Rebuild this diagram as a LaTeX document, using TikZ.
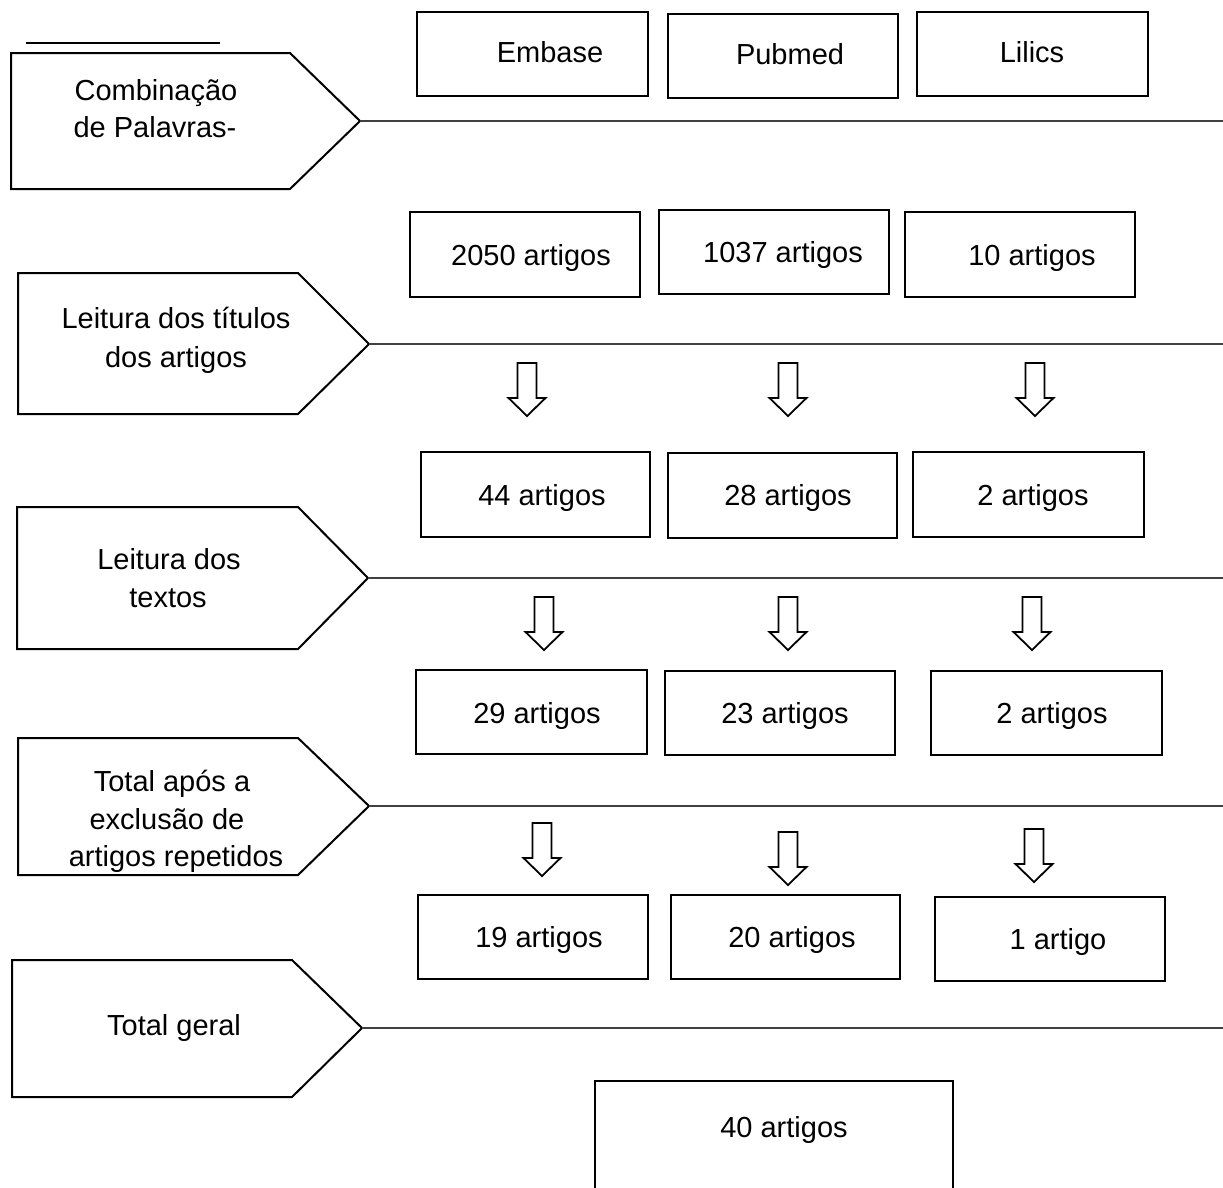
\documentclass[tikz,border=0pt]{standalone}
\usepackage{fontspec}
\setmainfont{Liberation Sans}
\begin{document}
\begin{tikzpicture}[x=1pt,y=-1pt,
  box/.style={draw=black, line width=2pt, inner sep=0pt},
  txt/.style={inner sep=0pt, anchor=base, font=\fontsize{29}{34}\selectfont},
  pent/.style={draw=black, line width=2pt, line join=miter},
  rule/.style={draw=black!75, line width=1.3pt},
  blockarrow/.style={draw=black, line width=1.8pt, line join=miter},
  dnarrow/.pic={\draw[blockarrow] (-9.5,0) -- (9.5,0) -- (9.5,35) -- (18.5,35) -- (0,53) -- (-18.5,35) -- (-9.5,35) -- cycle;}]
\useasboundingbox (0,0) rectangle (1223,1187);
\clip (0,0) rectangle (1223,1187);

% short top line
\coordinate (tl1) at (26,43);
\coordinate (tl2) at (220,43);
\draw[black, line width=1.6pt] (tl1) -- (tl2);

% pentagons
\draw[pent] (11,53) -- (290,53) -- (360,121) -- (290,189) -- (11,189) -- cycle;
\coordinate (p1) at (360,121);
\draw[pent] (18,273) -- (298,273) -- (369,344) -- (298,414) -- (18,414) -- cycle;
\coordinate (p2) at (369,344);
\draw[pent] (17,507) -- (298,507) -- (368,578) -- (298,649) -- (17,649) -- cycle;
\coordinate (p3) at (368,578);
\draw[pent] (18,738) -- (298,738) -- (369,806) -- (298,875) -- (18,875) -- cycle;
\coordinate (p4) at (369,806);
\draw[pent] (12,960) -- (292,960) -- (362,1028) -- (292,1097) -- (12,1097) -- cycle;
\coordinate (p5) at (362,1028);

% horizontal rules
\coordinate (e1) at (1223,121);
\coordinate (e2) at (1223,344);
\coordinate (e3) at (1223,578);
\coordinate (e4) at (1223,806);
\coordinate (e5) at (1223,1028);
\draw[rule] (p1) -- (e1);
\draw[rule] (p2) -- (e2);
\draw[rule] (p3) -- (e3);
\draw[rule] (p4) -- (e4);
\draw[rule] (p5) -- (e5);

% pentagon texts
\node[txt] (p1a) at (156,100) {Combinação};
\node[txt] (p1b) at (155,137) {de Palavras-};
\node[txt] (p2a) at (176,328) {Leitura dos títulos};
\node[txt] (p2b) at (176,367) {dos artigos};
\node[txt] (p3a) at (169,569) {Leitura dos};
\node[txt] (p3b) at (168,607) {textos};
\node[txt] (p4a) at (172,791) {Total após a};
\node[txt] (p4b) at (167,829) {exclusão de};
\node[txt] (p4c) at (176,866) {artigos repetidos};
\node[txt] (p5a) at (174,1035) {Total geral};

% boxes row 1
\node[box, minimum width=231pt, minimum height=84pt] (emb) at (532.5,54) {};
\node[box, minimum width=230pt, minimum height=84pt] (pub) at (783,56) {};
\node[box, minimum width=231pt, minimum height=84pt] (lil) at (1032.5,54) {};
\node[txt] (temb) at (550,62) {Embase};
\node[txt] (tpub) at (790,64) {Pubmed};
\node[txt] (tlil) at (1032,62) {Lilics};

% row 2
\node[box, minimum width=230pt, minimum height=85pt] (r2a) at (525,254.5) {};
\node[box, minimum width=230pt, minimum height=84pt] (r2b) at (774,252) {};
\node[box, minimum width=230pt, minimum height=85pt] (r2c) at (1020,254.5) {};
\node[txt] (t2a) at (531,265) {2050 artigos};
\node[txt] (t2b) at (783,262) {1037 artigos};
\node[txt] (t2c) at (1032,265) {10 artigos};

% row 3
\node[box, minimum width=229pt, minimum height=85pt] (r3a) at (535.5,494.5) {};
\node[box, minimum width=229pt, minimum height=85pt] (r3b) at (782.5,495.5) {};
\node[box, minimum width=231pt, minimum height=85pt] (r3c) at (1028.5,494.5) {};
\node[txt] (t3a) at (542,505) {44 artigos};
\node[txt] (t3b) at (788,505) {28 artigos};
\node[txt] (t3c) at (1033,505) {2 artigos};

% row 4
\node[box, minimum width=231pt, minimum height=84pt] (r4a) at (531.5,712) {};
\node[box, minimum width=230pt, minimum height=84pt] (r4b) at (780,713) {};
\node[box, minimum width=231pt, minimum height=84pt] (r4c) at (1046.5,713) {};
\node[txt] (t4a) at (537,723) {29 artigos};
\node[txt] (t4b) at (785,723) {23 artigos};
\node[txt] (t4c) at (1052,723) {2 artigos};

% row 5
\node[box, minimum width=230pt, minimum height=84pt] (r5a) at (533,937) {};
\node[box, minimum width=229pt, minimum height=84pt] (r5b) at (785.5,937) {};
\node[box, minimum width=230pt, minimum height=84pt] (r5c) at (1050,939) {};
\node[txt] (t5a) at (539,947) {19 artigos};
\node[txt] (t5b) at (792,947) {20 artigos};
\node[txt] (t5c) at (1058,949) {1 artigo};

% total box
\node[box, minimum width=358pt, minimum height=160pt] (tot) at (774,1161) {};
\node[txt] (ttot) at (784,1137) {40 artigos};

% block arrows
\pic at (527,363) {dnarrow};
\pic at (788,363) {dnarrow};
\pic at (1035,363) {dnarrow};
\pic at (544,597) {dnarrow};
\pic at (788,597) {dnarrow};
\pic at (1032,597) {dnarrow};
\pic at (542,823) {dnarrow};
\pic at (788,832) {dnarrow};
\pic at (1034,829) {dnarrow};
\end{tikzpicture}
\end{document}
